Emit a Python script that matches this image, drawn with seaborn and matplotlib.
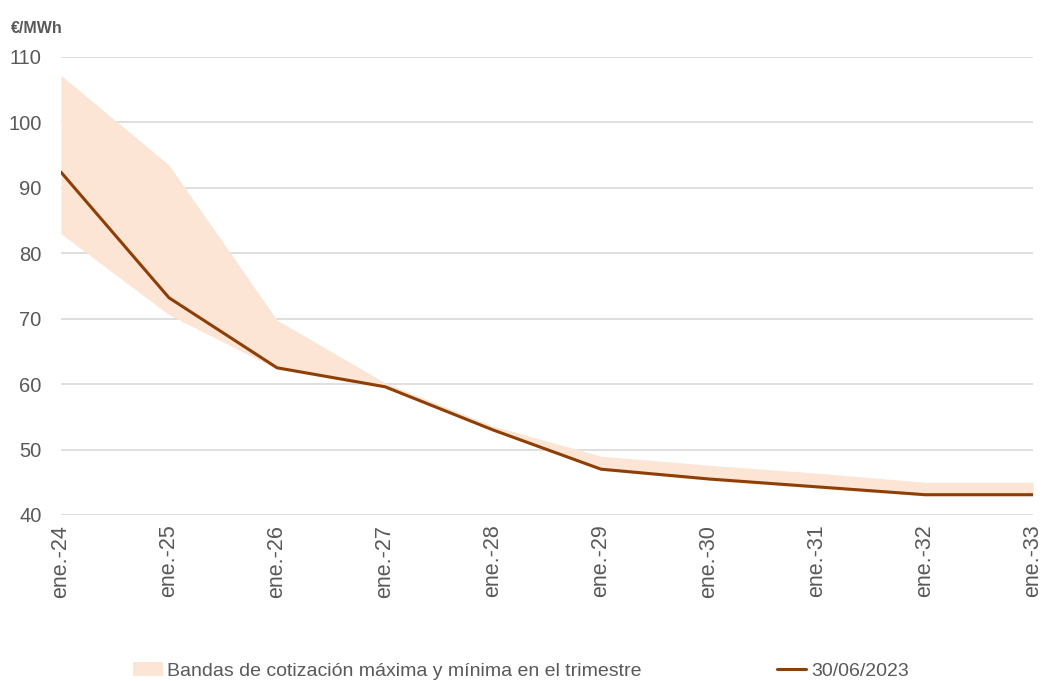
import matplotlib
matplotlib.use("Agg")
import matplotlib.pyplot as plt
from matplotlib.patches import Patch
from matplotlib.lines import Line2D
import seaborn as sns
import pandas as pd

# Forward curve (€/MWh) by January of each year
periods = ["ene.-24", "ene.-25", "ene.-26", "ene.-27", "ene.-28",
           "ene.-29", "ene.-30", "ene.-31", "ene.-32", "ene.-33"]
curve_30jun = [92.4, 73.2, 62.5, 59.6, 53.0, 47.0, 45.5, 44.3, 43.1, 43.1]
band_max = [107.2, 93.5, 69.8, 60.2, 53.6, 49.0, 47.6, 46.4, 45.0, 45.0]
band_min = [83.0, 70.6, 62.3, 59.4, 52.8, 46.8, 45.3, 44.1, 42.9, 42.9]

ytick_values = [40, 50, 60, 70, 80, 90, 100, 110]
unit_label = "€/MWh"
band_label = "Bandas de cotización máxima y mínima en el trimestre"
line_label = "30/06/2023"

sns.set_theme(style="white")
plt.rcParams["font.family"] = ["Liberation Sans", "DejaVu Sans"]

text_color = "#595959"
band_color = "#FCE5D5"
line_color = "#8E3F06"
grid_color = "#D9D9D9"

df = pd.DataFrame({
    "pos": range(len(periods)),
    "periodo": periods,
    "precio": curve_30jun,
    "max": band_max,
    "min": band_min,
})

fig = plt.figure(figsize=(10.44, 6.81), dpi=100)
ax = fig.add_axes([0.0584, 0.2438, 0.9311, 0.6725])

for v in ytick_values:
    ax.axhline(v, color=grid_color, lw=1.2, zorder=0)

ax.fill_between(df["pos"], df["min"], df["max"], color=band_color, lw=0, zorder=1)
sns.lineplot(data=df, x="pos", y="precio", ax=ax, color=line_color, lw=2.2,
             zorder=3, legend=False)

ax.set_xlim(0, len(periods) - 1)
ax.set_ylim(40, 110)
ax.set_yticks(ytick_values)
ax.set_yticklabels([str(v) for v in ytick_values], fontsize=14.5, color=text_color)
ax.set_xticks(df["pos"])
ax.set_xticklabels(periods, rotation=90, fontsize=15.5, color=text_color)
ax.tick_params(axis="y", length=0, pad=14)
ax.tick_params(axis="x", length=0, pad=7)
ax.set_xlabel("")
ax.set_ylabel("")
for s in ax.spines.values():
    s.set_visible(False)

fig.text(0.010, 0.958, unit_label, fontsize=11.5, fontweight="bold",
         color=text_color, ha="left", va="center")

handles = [Patch(facecolor=band_color, edgecolor="none"),
           Line2D([0], [0], color=line_color, lw=2.2)]
fig.legend(handles, [band_label, line_label], loc="lower left",
           bbox_to_anchor=(0.111, -0.024), ncol=2, frameon=False,
           fontsize=14, labelcolor=text_color, handlelength=1.5,
           handletextpad=0.25, columnspacing=6.95)

fig.savefig("out.png", dpi=100, facecolor="white")
